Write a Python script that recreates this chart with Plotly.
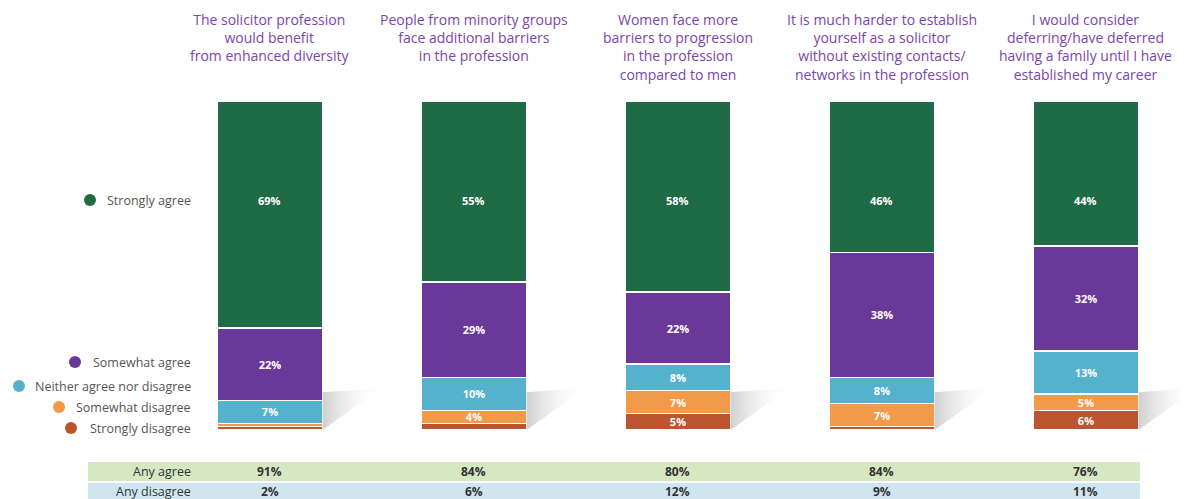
import plotly.graph_objects as go

statements = [
    "The solicitor profession<br>would benefit<br>from enhanced diversity",
    "People from minority groups<br>face additional barriers<br>in the profession",
    "Women face more<br>barriers to progression<br>in the profession<br>compared to men",
    "It is much harder to establish<br>yourself as a solicitor<br>without existing contacts/<br>networks in the profession",
    "I would consider<br>deferring/have deferred<br>having a family until I have<br>established my career",
]

responses = ["Strongly agree", "Somewhat agree", "Neither agree nor disagree",
             "Somewhat disagree", "Strongly disagree"]
colors = ["#1f6b45", "#6a3898", "#55b2cd", "#f2994a", "#bb5530"]

strongly_agree = [69, 55, 58, 46, 44]
somewhat_agree = [22, 29, 22, 38, 32]
neither = [7, 10, 8, 8, 13]
somewhat_disagree = [1, 4, 7, 7, 5]
strongly_disagree = [1, 2, 5, 1, 6]

any_agree = [91, 84, 80, 84, 76]
any_disagree = [2, 6, 12, 9, 11]

series = [strongly_agree, somewhat_agree, neither, somewhat_disagree, strongly_disagree]

# page body has an 8px margin, so the figure is drawn 8px in from the window corner
OFF = 8
W, H = 1189 - OFF, 499 - OFF
TOP, BOT = 101 - OFF, 430 - OFF


def px(x):
    # window pixel -> paper x
    return (x - OFF) / W


def py(y):
    # window pixel -> paper y
    return (BOT - (y - OFF)) / (BOT - TOP)


fig = go.Figure()

# drop shadows to the right of each bar base
bar_w = 0.515
for i in range(len(statements)):
    xr = i + bar_w / 2
    fig.add_trace(go.Scatter(
        x=[xr, xr, xr + 0.29, xr],
        y=[0, 11.5, 12.8, 0],
        xaxis="x2", mode="lines", line=dict(width=0),
        fill="toself",
        fillgradient=dict(type="horizontal",
                          colorscale=[[0, "rgba(150,150,150,0.45)"],
                                      [1, "rgba(255,255,255,0)"]]),
        hoverinfo="skip", showlegend=False,
    ))

label_font = dict(color="white", size=11, family="Open Sans", weight="bold")

# stacked bars, bottom segment first
for name, vals, col in reversed(list(zip(responses, series, colors))):
    top_seg = name == responses[0]
    fig.add_trace(go.Bar(
        x=statements, y=vals, name=name,
        width=bar_w,
        marker=dict(color=col, line=dict(color="white", width=1.5)),
        text=None if top_seg else [f"{v}%" if v >= 4 else "" for v in vals],
        textposition="inside", insidetextanchor="middle",
        textfont=label_font,
        hoverinfo="skip", showlegend=False,
    ))

xrange = [-1.3235 + OFF / 204, 4.505]

shapes = []
annotations = []

# "Strongly agree" labels sit on one common line, level with the legend entry
for s, v in zip(statements, strongly_agree):
    annotations.append(dict(
        x=s, y=py(200), xref="x", yref="paper",
        xanchor="center", yanchor="middle", showarrow=False,
        text=f"{v}%", font=label_font,
    ))

# legend dots + labels
legend_y = [200, 362, 386, 407, 428]
legend_dot_x = [90, 75, 19, 59, 71]
for name, col, yy, dx in zip(responses, colors, legend_y, legend_dot_x):
    annotations.append(dict(
        x=px(193), y=py(yy), xref="paper", yref="paper",
        xanchor="right", yanchor="middle", showarrow=False,
        text=name, font=dict(size=12.5, color="#555555", family="Open Sans"),
    ))
    r = 6
    shapes.append(dict(
        type="circle", xref="paper", yref="paper",
        x0=px(dx - r), x1=px(dx + r), y0=py(yy + r), y1=py(yy - r),
        fillcolor=col, line=dict(width=0),
    ))

# titles
for s in statements:
    annotations.append(dict(
        x=s, y=py(8), xref="x", yref="paper",
        xanchor="center", yanchor="top", showarrow=False,
        text=s, align="center",
        font=dict(size=14, color="#7b45ab", family="Open Sans"),
    ))

# summary table
rows = [("Any agree", any_agree, "#d6e8c2", 462, 481),
        ("Any disagree", any_disagree, "#cfe6ef", 483, 502)]
for label, vals, band, y0, y1 in rows:
    shapes.append(dict(
        type="rect", xref="paper", yref="paper", layer="below",
        x0=px(88), x1=px(1140), y0=py(y1), y1=py(y0),
        fillcolor=band, line=dict(width=0),
    ))
    ym = 491 if y1 > 499 else (y0 + y1) / 2
    annotations.append(dict(
        x=px(193), y=py(ym), xref="paper", yref="paper",
        xanchor="right", yanchor="middle", showarrow=False,
        text=label, font=dict(size=12.5, color="#333333", family="Open Sans"),
    ))
    for s, v in zip(statements, vals):
        annotations.append(dict(
            x=s, y=py(ym), xref="x", yref="paper",
            xanchor="center", yanchor="middle", showarrow=False,
            text=f"<b>{v}%</b>", font=dict(size=12, color="#333333", family="Open Sans"),
        ))

fig.update_layout(
    width=W, height=H,
    barmode="stack",
    margin=dict(l=0, r=0, t=TOP, b=H - BOT),
    paper_bgcolor="white", plot_bgcolor="white",
    xaxis=dict(range=xrange, visible=False),
    xaxis2=dict(range=xrange, overlaying="x", visible=False),
    yaxis=dict(range=[0, 100], visible=False),
    uniformtext=dict(minsize=11, mode="show"),
    shapes=shapes, annotations=annotations,
    showlegend=False,
)

fig.write_html("out.html")
